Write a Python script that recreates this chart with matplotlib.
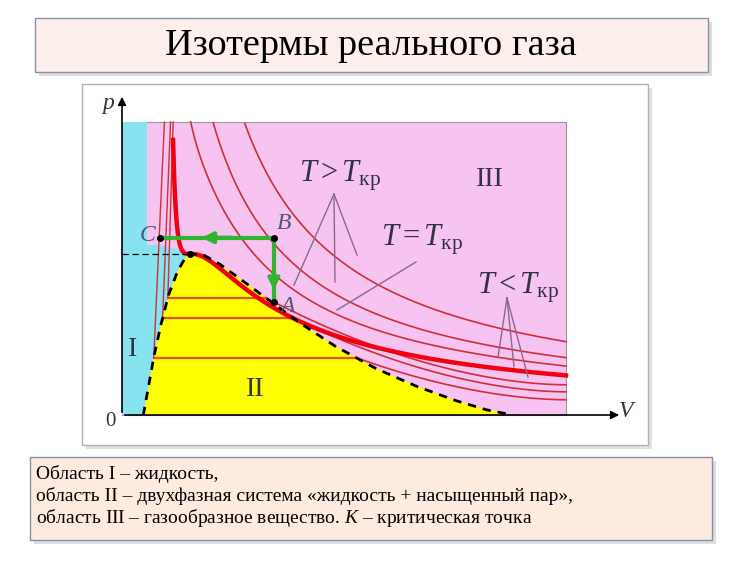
import numpy as np
import matplotlib
matplotlib.use("Agg")
import matplotlib.pyplot as plt
from matplotlib.patches import Rectangle, Polygon, FancyArrowPatch

plt.rcParams['mathtext.fontset'] = 'custom'
plt.rcParams['mathtext.rm'] = 'Liberation Serif'
plt.rcParams['mathtext.it'] = 'Liberation Serif:italic'
SERIF = 'Liberation Serif'

# ---- data (normalised V in [0,1], p in [0,1]) ----
binodal_left_V = [0.048, 0.060, 0.072, 0.088, 0.105, 0.125, 0.142, 0.153]
binodal_left_p = [0.000, 0.100, 0.200, 0.310, 0.410, 0.490, 0.535, 0.550]
binodal_right_V = [0.153, 0.185, 0.22, 0.27, 0.337, 0.40, 0.48, 0.57, 0.66, 0.75, 0.82, 0.88]
binodal_right_p = [0.550, 0.545, 0.515, 0.460, 0.385, 0.315, 0.235, 0.160, 0.100, 0.050, 0.018, 0.000]
crit_V, crit_p = 0.153, 0.550
super_T = [1.76, 1.40, 1.21]          # reduced temperatures, T > Tкр
crit_T = 1.0
sub_ps = [0.40, 0.33, 0.196]          # saturation pressures, T < Tкр
sub_pe = [0.103, 0.079, 0.052]        # pressure at right edge
path_labels = ['C', 'B', 'A']
path_V = [0.086, 0.342, 0.342]
path_p = [0.605, 0.605, 0.385]

X0, X1, Y0, Y1 = 122, 566, 415, 122
def px(V, p):
    return X0 + np.asarray(V) * (X1 - X0), Y0 - np.asarray(p) * (Y0 - Y1)

def vdw(V, T):
    v = (V - 0.059) / 0.094
    return crit_p * (8 * T / (3 * v - 1) - 3 / v ** 2)

fig = plt.figure(figsize=(7.5, 5.62), dpi=100)
ax = fig.add_axes([0, 0, 1, 1])
ax.set_xlim(0, 750); ax.set_ylim(562, 0); ax.axis('off')

# frames
ax.add_patch(Rectangle((39, 22), 673, 54, fc='#c8c8c8', ec='none', alpha=0.6))
ax.add_patch(Rectangle((35, 18), 673, 54, fc='#fdf0ec', ec='#8a8fa8', lw=1))
ax.text(371, 46, 'Изотермы реального газа', family=SERIF, fontsize=27.5, ha='center', va='center')
ax.add_patch(Rectangle((86, 88), 566, 361, fc='#cfcfcf', ec='none', alpha=0.6))
ax.add_patch(Rectangle((82, 84), 566, 361, fc='white', ec='#b0b0b0', lw=1))
ax.add_patch(Rectangle((34, 461), 682, 83, fc='#c8c8c8', ec='none', alpha=0.6))
ax.add_patch(Rectangle((30, 457), 682, 83, fc='#fdebe0', ec='#8a8fa8', lw=1))
fs = 14
ax.text(36, 474, 'Область I – жидкость,', family=SERIF, fontsize=fs, va='center')
ax.text(36, 496, 'область II – двухфазная система «жидкость + насыщенный пар»,', family=SERIF, fontsize=fs, va='center')
ax.text(36, 518, 'область III – газообразное вещество. $K$ – критическая точка', family=SERIF, fontsize=fs, va='center')

# regions
x, y = px([0, 1, 1, 0], [0, 0, 1, 1])
ax.add_patch(Polygon(np.c_[x, y], fc='#f7c3f1', ec='#999999', lw=0.8, zorder=1))
cx, cy = px([0] + binodal_left_V + [0.09, 0], [0] + binodal_left_p + [0.58, 0.58])
ax.add_patch(Polygon(np.c_[cx, cy], fc='#86e3ef', ec='none', zorder=1.5))
sx, sy = px([0, 0.056, 0.056, 0], [0, 0, 1, 1])
ax.add_patch(Polygon(np.c_[sx, sy], fc='#86e3ef', ec='none', zorder=1.5))
dV = binodal_left_V + binodal_right_V[1:]
dp = binodal_left_p + binodal_right_p[1:]
dx, dy = px(dV, dp)
ax.add_patch(Polygon(np.c_[dx, dy], fc='#ffff00', ec='none', zorder=2))

Vg = np.linspace(0.05, 1, 600)
for T in super_T:
    pv = vdw(Vg, T)
    m = (pv <= 1.0) & (pv > 0) & (Vg > 0.09)
    ax.plot(*px(Vg[m], pv[m]), color='#d0303a', lw=1.2, zorder=3)
pv = vdw(Vg, crit_T)
m = (pv <= 1.0) & (Vg > 0.09)
ax.plot(*px(Vg[m], pv[m]), color='#f00010', lw=3.2, zorder=4)
rV = np.array(binodal_right_V[::-1]); rp = np.array(binodal_right_p[::-1])
for i, (ps, pe) in enumerate(zip(sub_ps, sub_pe)):
    vg = np.interp(ps, rp, rV)
    vl = np.interp(ps, binodal_left_p, binodal_left_V)
    V = np.linspace(vg, 1, 200)
    p = pe + (ps - pe) * ((1 - V) / (1 - vg)) ** 1.8
    ax.plot(*px(V, p), color='#d0303a', lw=1.2, zorder=3)
    ax.plot(*px([vl, vg], [ps, ps]), color='#e8501a', lw=1.6, zorder=3)
    ax.plot(*px([vl, vl + 0.012 + 0.006 * i], [ps, 1.0]), color='#d0303a', lw=1.0, zorder=3)

ax.plot(dx, dy, color='black', lw=2, ls=(0, (3, 2.5)), zorder=5)
kx, ky = px(crit_V, crit_p)
ax.plot(*px([0, crit_V], [crit_p, crit_p]), color='black', lw=0.9, ls=(0, (5, 3)), zorder=5)
ax.plot(kx, ky, 'o', color='black', ms=4, zorder=6)

gx, gy = px(path_V, path_p)
ax.plot(gx, gy, color='#2fb52f', lw=3, zorder=6)
ax.add_patch(FancyArrowPatch((gx[1] - 40, gy[1]), (gx[1] - 75, gy[1]), arrowstyle='-|>', mutation_scale=16, color='#2fb52f', lw=3, zorder=6))
ax.add_patch(FancyArrowPatch((gx[1], gy[1] + 30), (gx[1], gy[1] + 55), arrowstyle='-|>', mutation_scale=16, color='#2fb52f', lw=3, zorder=6))
ax.plot(gx, gy, 'o', color='black', ms=4, zorder=7)
offs = [(-13, -2), (10, -14), (14, 4)]
for lab, xx, yy, o in zip(path_labels, gx, gy, offs):
    ax.text(xx + o[0], yy + o[1], lab, family=SERIF, style='italic', fontsize=17, color='#555577', ha='center', va='center', zorder=8)

ax.annotate('', xy=(X0, 94), xytext=(X0, Y0), arrowprops=dict(arrowstyle='-|>', color='black', lw=1.2, mutation_scale=12), zorder=9)
ax.annotate('', xy=(622, Y0), xytext=(X0, Y0), arrowprops=dict(arrowstyle='-|>', color='black', lw=1.2, mutation_scale=12), zorder=9)
ax.text(108, 104, '$p$', fontsize=17, color='#333344', ha='center', va='center')
ax.text(627, 410, '$V$', fontsize=17, color='#333344', ha='center', va='center')
ax.text(110, 421, '0', family=SERIF, fontsize=15, color='#333344', ha='center', va='center')

for lab, xx, yy in [('III', 490, 180), ('I', 133, 350), ('II', 255, 390)]:
    ax.text(xx, yy, lab, family=SERIF, fontsize=20, color='#333344', ha='center', va='center', zorder=8)

lc = '#8a6a8a'
ax.text(340, 176, r'$T > T_{\mathrm{кр}}$', fontsize=22, color='#333344', ha='center', va='center', zorder=8)
for ex, ey in [(294, 285), (335, 282), (357, 255)]:
    ax.plot([334, ex], [194, ey], color=lc, lw=1, zorder=8)
ax.text(422, 240, r'$T = T_{\mathrm{кр}}$', fontsize=22, color='#333344', ha='center', va='center', zorder=8)
ax.plot([416, 337], [262, 310], color=lc, lw=1, zorder=8)
ax.text(518, 288, r'$T < T_{\mathrm{кр}}$', fontsize=22, color='#333344', ha='center', va='center', zorder=8)
for ex, ey in [(498, 357), (514, 367), (528, 377)]:
    ax.plot([507, ex], [298, ey], color=lc, lw=1, zorder=8)

fig.savefig('out.png', dpi=100)
